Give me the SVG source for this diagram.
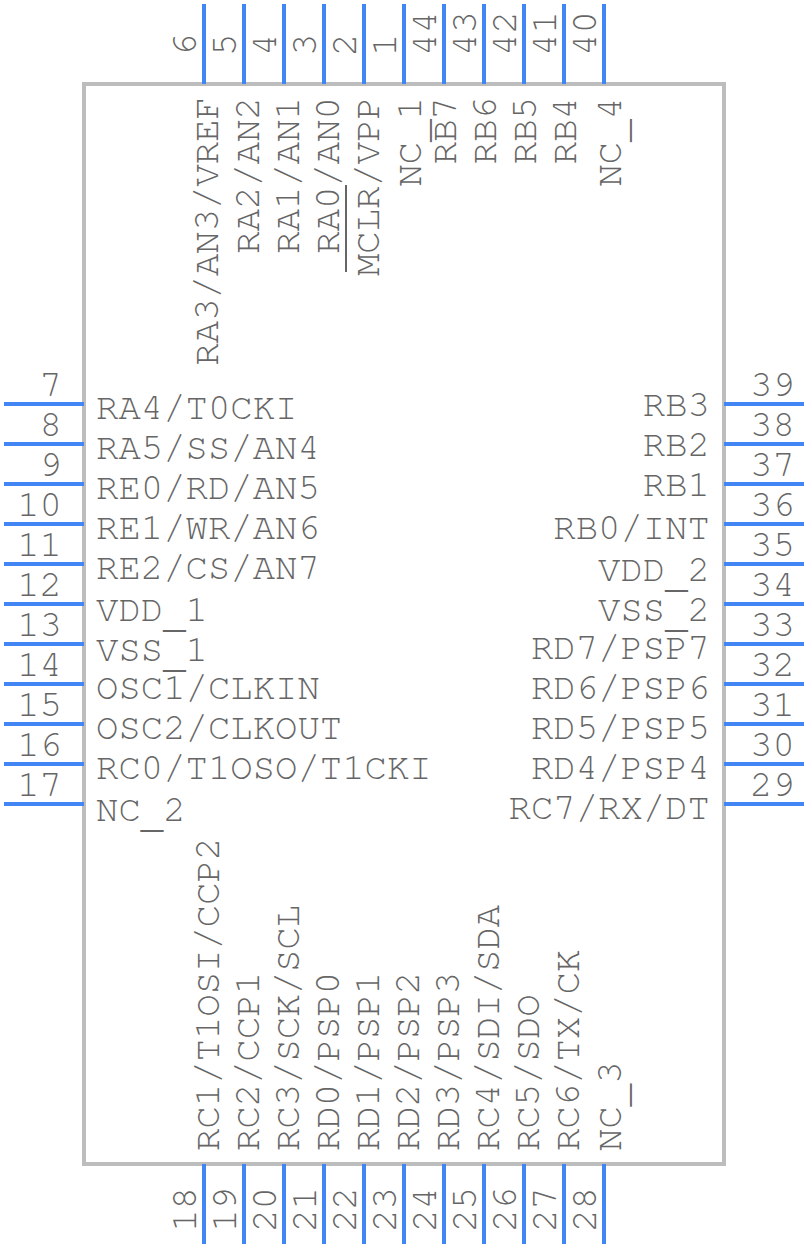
<svg xmlns="http://www.w3.org/2000/svg" width="808" height="1248" viewBox="0 0 808 1248">
<style>
text{font-family:"TeX Gyre Cursor",FreeMono,"Liberation Mono",monospace;font-size:37.3px;fill:#666666}
.e{text-anchor:end}
.p{stroke:#4285f4;stroke-width:4;fill:none}
.o{stroke:#666666;stroke-width:2;fill:none}
</style>
<rect id="body" x="84" y="84" width="640" height="1080" fill="#ffffff" stroke="#bdbdbd" stroke-width="4"/>
<g id="connectors" class="p">
<path d="M204 4V84M244 4V84M284 4V84M324 4V84M364 4V84M404 4V84M444 4V84M484 4V84M524 4V84M564 4V84M604 4V84"/>
<path d="M204 1164V1244M244 1164V1244M284 1164V1244M324 1164V1244M364 1164V1244M404 1164V1244M444 1164V1244M484 1164V1244M524 1164V1244M564 1164V1244M604 1164V1244"/>
<path d="M4 404H84M4 444H84M4 484H84M4 524H84M4 564H84M4 604H84M4 644H84M4 684H84M4 724H84M4 764H84M4 804H84"/>
<path d="M724 404H804M724 444H804M724 484H804M724 524H804M724 564H804M724 604H804M724 644H804M724 684H804M724 724H804M724 764H804M724 804H804"/>
</g>
<g id="overlines" class="o">
<path d="M346 185V272"/>
</g>
<g id="left-pins">
<g id="pin7"><text class="e" x="62" y="396">7</text><text x="96" y="419">RA4/T0CKI</text></g>
<g id="pin8"><text class="e" x="62" y="436">8</text><text x="96" y="459">RA5/SS/AN4</text></g>
<g id="pin9"><text class="e" x="62" y="476">9</text><text x="96" y="499">RE0/RD/AN5</text></g>
<g id="pin10"><text class="e" x="62" y="516">10</text><text x="96" y="539">RE1/WR/AN6</text></g>
<g id="pin11"><text class="e" x="62" y="556">11</text><text x="96" y="579">RE2/CS/AN7</text></g>
<g id="pin12"><text class="e" x="62" y="596">12</text><text x="96" y="621">VDD<tspan dy="6">_</tspan><tspan dy="-6">1</tspan></text></g>
<g id="pin13"><text class="e" x="62" y="636">13</text><text x="96" y="661">VSS<tspan dy="6">_</tspan><tspan dy="-6">1</tspan></text></g>
<g id="pin14"><text class="e" x="62" y="676">14</text><text x="96" y="699">OSC1/CLKIN</text></g>
<g id="pin15"><text class="e" x="62" y="716">15</text><text x="96" y="739">OSC2/CLKOUT</text></g>
<g id="pin16"><text class="e" x="62" y="756">16</text><text x="96" y="779">RC0/T1OSO/T1CKI</text></g>
<g id="pin17"><text class="e" x="62" y="796">17</text><text x="96" y="821">NC<tspan dy="6">_</tspan><tspan dy="-6">2</tspan></text></g>
</g>
<g id="right-pins">
<g id="pin39"><text x="750" y="396">39</text><text class="e" x="710" y="416">RB3</text></g>
<g id="pin38"><text x="750" y="436">38</text><text class="e" x="710" y="456">RB2</text></g>
<g id="pin37"><text x="750" y="476">37</text><text class="e" x="710" y="496">RB1</text></g>
<g id="pin36"><text x="750" y="516">36</text><text class="e" x="710" y="539">RB0/INT</text></g>
<g id="pin35"><text x="750" y="556">35</text><text class="e" x="710" y="581">VDD<tspan dy="6">_</tspan><tspan dy="-6">2</tspan></text></g>
<g id="pin34"><text x="750" y="596">34</text><text class="e" x="710" y="621">VSS<tspan dy="6">_</tspan><tspan dy="-6">2</tspan></text></g>
<g id="pin33"><text x="750" y="636">33</text><text class="e" x="710" y="659">RD7/PSP7</text></g>
<g id="pin32"><text x="750" y="676">32</text><text class="e" x="710" y="699">RD6/PSP6</text></g>
<g id="pin31"><text x="750" y="716">31</text><text class="e" x="710" y="739">RD5/PSP5</text></g>
<g id="pin30"><text x="750" y="756">30</text><text class="e" x="710" y="779">RD4/PSP4</text></g>
<g id="pin29"><text x="750" y="796">29</text><text class="e" x="710" y="819">RC7/RX/DT</text></g>
</g>
<g id="top-pins">
<g id="pin6"><text transform="translate(196 56) rotate(-90)">6</text><text class="e" transform="translate(218 97) rotate(-90)">RA3/AN3/VREF</text></g>
<g id="pin5"><text transform="translate(236 56) rotate(-90)">5</text><text class="e" transform="translate(259 97) rotate(-90)">RA2/AN2</text></g>
<g id="pin4"><text transform="translate(276 56) rotate(-90)">4</text><text class="e" transform="translate(299 97) rotate(-90)">RA1/AN1</text></g>
<g id="pin3"><text transform="translate(316 56) rotate(-90)">3</text><text class="e" transform="translate(339 97) rotate(-90)">RA0/AN0</text></g>
<g id="pin2"><text transform="translate(356 56) rotate(-90)">2</text><text class="e" transform="translate(379 97) rotate(-90)">MCLR/VPP</text></g>
<g id="pin1"><text transform="translate(396 56) rotate(-90)">1</text><text class="e" transform="translate(421 97) rotate(-90)">NC<tspan dy="6">_</tspan><tspan dy="-6">1</tspan></text></g>
<g id="pin44"><text transform="translate(436 56) rotate(-90)">44</text><text class="e" transform="translate(456 97) rotate(-90)">RB7</text></g>
<g id="pin43"><text transform="translate(476 56) rotate(-90)">43</text><text class="e" transform="translate(496 97) rotate(-90)">RB6</text></g>
<g id="pin42"><text transform="translate(516 56) rotate(-90)">42</text><text class="e" transform="translate(536 97) rotate(-90)">RB5</text></g>
<g id="pin41"><text transform="translate(556 56) rotate(-90)">41</text><text class="e" transform="translate(576 97) rotate(-90)">RB4</text></g>
<g id="pin40"><text transform="translate(596 56) rotate(-90)">40</text><text class="e" transform="translate(621 97) rotate(-90)">NC<tspan dy="6">_</tspan><tspan dy="-6">4</tspan></text></g>
</g>
<g id="bottom-pins">
<g id="pin18"><text class="e" transform="translate(196 1187) rotate(-90)">18</text><text transform="translate(219 1151) rotate(-90)">RC1/T1OSI/CCP2</text></g>
<g id="pin19"><text class="e" transform="translate(236 1187) rotate(-90)">19</text><text transform="translate(259 1151) rotate(-90)">RC2/CCP1</text></g>
<g id="pin20"><text class="e" transform="translate(276 1187) rotate(-90)">20</text><text transform="translate(299 1151) rotate(-90)">RC3/SCK/SCL</text></g>
<g id="pin21"><text class="e" transform="translate(316 1187) rotate(-90)">21</text><text transform="translate(339 1151) rotate(-90)">RD0/PSP0</text></g>
<g id="pin22"><text class="e" transform="translate(356 1187) rotate(-90)">22</text><text transform="translate(379 1151) rotate(-90)">RD1/PSP1</text></g>
<g id="pin23"><text class="e" transform="translate(396 1187) rotate(-90)">23</text><text transform="translate(419 1151) rotate(-90)">RD2/PSP2</text></g>
<g id="pin24"><text class="e" transform="translate(436 1187) rotate(-90)">24</text><text transform="translate(459 1151) rotate(-90)">RD3/PSP3</text></g>
<g id="pin25"><text class="e" transform="translate(476 1187) rotate(-90)">25</text><text transform="translate(499 1151) rotate(-90)">RC4/SDI/SDA</text></g>
<g id="pin26"><text class="e" transform="translate(516 1187) rotate(-90)">26</text><text transform="translate(539 1151) rotate(-90)">RC5/SDO</text></g>
<g id="pin27"><text class="e" transform="translate(556 1187) rotate(-90)">27</text><text transform="translate(579 1151) rotate(-90)">RC6/TX/CK</text></g>
<g id="pin28"><text class="e" transform="translate(596 1187) rotate(-90)">28</text><text transform="translate(621 1151) rotate(-90)">NC<tspan dy="6">_</tspan><tspan dy="-6">3</tspan></text></g>
</g>
</svg>
